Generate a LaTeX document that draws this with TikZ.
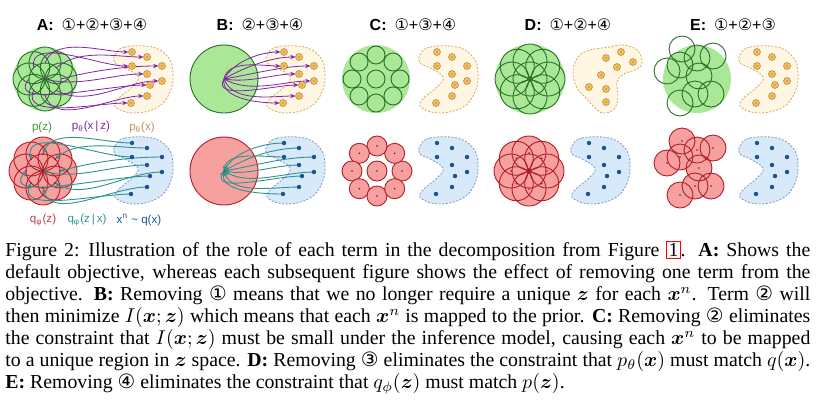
\documentclass[tikz,border=0pt]{standalone}
\usepackage{amsmath,amssymb,bm}
\usepackage{fontspec}
\setmainfont{Liberation Serif}
\setsansfont{Liberation Sans}
\newfontfamily\circfont{DejaVu Sans}
\usepackage{xcolor}
\usetikzlibrary{arrows.meta}

\definecolor{priorgreen}{RGB}{170,232,152}
\definecolor{postgreen}{RGB}{38,112,40}
\definecolor{lblgreen}{RGB}{70,150,60}
\definecolor{aggred}{RGB}{246,160,160}
\definecolor{postred}{RGB}{178,28,38}
\definecolor{modelfill}{RGB}{255,246,228}
\definecolor{modeledge}{RGB}{214,166,98}
\definecolor{modeldot}{RGB}{247,190,85}
\definecolor{datafill}{RGB}{216,233,250}
\definecolor{dataedge}{RGB}{128,152,196}
\definecolor{datadot}{RGB}{28,82,150}
\definecolor{decpurple}{RGB}{128,36,165}
\definecolor{encteal}{RGB}{45,148,140}

\tikzset{
  prior/.style={fill=priorgreen},
  postz/.style={draw=postgreen, line width=0.45pt},
  aggfill/.style={fill=aggred},
  aggline/.style={draw=postred, line width=0.45pt},
  modelblob/.style={draw=modeledge, fill=modelfill, dash pattern=on 1pt off 0.8pt, line width=0.4pt},
  datablob/.style={draw=dataedge, fill=datafill, dash pattern=on 1pt off 0.8pt, line width=0.4pt},
  mdot/.style={draw=modeledge!85!black, fill=modeldot, line width=0.3pt},
  mcore/.style={fill=modeledge!50!black},
  ddot/.style={fill=datadot},
  zdot/.style={fill=postred!70!black},
  decarr/.style={->, draw=decpurple, line width=0.4pt, shorten >=1.8pt, looseness=0.85},
  encarr/.style={->, draw=encteal, line width=0.45pt, looseness=0.85},
  ptitle/.style={font=\sffamily\fontsize{8}{9}\selectfont},
  lbl/.style={font=\sffamily\fontsize{5.8}{6.5}\selectfont},
  caption/.style={anchor=north west, inner sep=0pt, text width=402.5pt, align=justify,
                  font=\fontsize{9.9}{10.95}\selectfont},
}

\begin{document}
\begin{tikzpicture}[x=0.5pt, y=0.5pt, >={Stealth[length=2.6pt,width=2.2pt]}]
  \useasboundingbox (0,0) rectangle (819,-404);

  % Titles
  \node[ptitle] (tA) at (92,-25)  {\textbf{A:}\enspace{\circfont ①}+{\circfont ②}+{\circfont ③}+{\circfont ④}};
  \node[ptitle] (tB) at (260,-25) {\textbf{B:}\enspace{\circfont ②}+{\circfont ③}+{\circfont ④}};
  \node[ptitle] (tC) at (413,-25) {\textbf{C:}\enspace{\circfont ①}+{\circfont ③}+{\circfont ④}};
  \node[ptitle] (tD) at (568,-25) {\textbf{D:}\enspace{\circfont ①}+{\circfont ②}+{\circfont ④}};
  \node[ptitle] (tE) at (733,-25) {\textbf{E:}\enspace{\circfont ①}+{\circfont ②}+{\circfont ③}};

  % ---------------- A ----------------
  % prior and decoder posteriors
  \fill[prior] (45,-79) circle (32);
  \foreach \a in {0,45,...,315}
    \draw[postz] (45,-79) ++(\a:16) circle (16);
  \draw[postz] (45,-79) circle (16);
  \coordinate (Az5) at (45,-79);
  \foreach \a/\k in {90/1,45/2,135/3,0/4,-45/6,180/7,-90/8,-135/9}
    \path (45,-79) ++(\a:16) coordinate (Az\k);

  % model distribution
  \begin{scope}[shift={(132,-52)}]
    \draw[modelblob] plot[smooth cycle, tension=0.7] coordinates
      {(-17,-3) (-7,5) (20,5) (36,-5) (41,-21) (38,-40) (26,-55) (3,-61)
       (-15,-56) (-15,-48) (0,-35) (6,-25) (-7,-16) (-17,-11)};
    \foreach \px/\py [count=\k] in {0/0,15/-5,0/-14,30/-14,15/-22,30/-29,18/-33,15/-44,-1/-51}
      \coordinate (Ax\k) at (\px,\py);
  \end{scope}
  \foreach \o/\k in {70/1,40/2,100/3,15/4,-15/5,-30/6,-130/7,-75/8,-115/9}
    \draw[decarr] (Az\k) to[out=\o, in=180] (Ax\k);
  \foreach \k in {1,...,9} {
    \filldraw[mdot] (Ax\k) circle (3.5);
    \fill[mcore] (Ax\k) circle (0.7);
  }

  % aggregate posterior
  \foreach \a in {0,45,...,315}
    \fill[aggfill] (43,-171) ++(\a:17) circle (17);
  \foreach \a in {0,45,...,315}
    \draw[aggline] (43,-171) ++(\a:17) circle (17);
  \draw[aggline] (43,-171) circle (17);
  \coordinate (Aq5) at (43,-171);
  \foreach \a/\k in {90/1,45/2,135/3,0/4,-45/6,180/7,-90/8,-135/9}
    \path (43,-171) ++(\a:17) coordinate (Aq\k);

  % data distribution
  \begin{scope}[shift={(132,-143)}]
    \draw[datablob] plot[smooth cycle, tension=0.7] coordinates
      {(-17,-3) (-7,5) (20,5) (36,-5) (41,-21) (38,-40) (26,-55) (3,-61)
       (-15,-56) (-15,-48) (0,-35) (6,-25) (-7,-16) (-17,-11)};
    \foreach \px/\py [count=\k] in {0/0,15/-5,0/-14,30/-14,15/-22,30/-29,18/-33,15/-44,-1/-51}
      \coordinate (Ad\k) at (\px,\py);
  \end{scope}
  \foreach \o/\k in {70/1,40/2,100/3,15/4,-15/5,-30/6,-130/7,-75/8,-115/9}
    \draw[encarr] (Ad\k) to[out=180, in=\o] (Aq\k);
  \foreach \k in {1,...,9} {
    \fill[zdot] (Aq\k) circle (0.9);
    \fill[ddot] (Ad\k) circle (2.2);
  }

  % labels
  \node[lbl, text=lblgreen] (lpz) at (42,-127) {p(z)};
  \node[lbl, text=decpurple] (lpxz) at (91,-127) {p\textsubscript{θ}(x\,|\,z)};
  \node[lbl, text=modeledge!90!black] (lpx) at (142,-127) {p\textsubscript{θ}(x)};
  \node[lbl, text=postred!85] (lqz) at (43,-220) {q\textsubscript{φ}(z)};
  \node[lbl, text=encteal] (lqzx) at (87,-220) {q\textsubscript{φ}(z\,|\,x)};
  \node[lbl, text=datadot] (lqx) at (139,-220) {x\textsuperscript{n} {\char"7E} q(x)};

  % ---------------- B ----------------
  \filldraw[prior, postz] (224,-79) circle (34);
  \coordinate (Bz) at (224,-79);
  \begin{scope}[shift={(284,-52)}]
    \draw[modelblob] plot[smooth cycle, tension=0.7] coordinates
      {(-17,-3) (-7,5) (20,5) (36,-5) (41,-21) (38,-40) (26,-55) (3,-61)
       (-15,-56) (-15,-48) (0,-35) (6,-25) (-7,-16) (-17,-11)};
    \foreach \px/\py [count=\k] in {0/0,15/-5,0/-14,30/-14,15/-22,30/-29,18/-33,15/-44,-1/-51}
      \coordinate (Bx\k) at (\px,\py);
  \end{scope}
  \foreach \o/\k in {60/1,30/2,80/3,10/4,-10/5,-30/6,-120/7,-70/8,-100/9}
    \draw[decarr] (Bz) to[out=\o, in=180] (Bx\k);
  \foreach \k in {1,...,9} {
    \filldraw[mdot] (Bx\k) circle (3.5);
    \fill[mcore] (Bx\k) circle (0.7);
  }

  \filldraw[aggfill, aggline] (224,-171) circle (34);
  \coordinate (Bq) at (224,-171);
  \begin{scope}[shift={(284,-143)}]
    \draw[datablob] plot[smooth cycle, tension=0.7] coordinates
      {(-17,-3) (-7,5) (20,5) (36,-5) (41,-21) (38,-40) (26,-55) (3,-61)
       (-15,-56) (-15,-48) (0,-35) (6,-25) (-7,-16) (-17,-11)};
    \foreach \px/\py [count=\k] in {0/0,15/-5,0/-14,30/-14,15/-22,30/-29,18/-33,15/-44,-1/-51}
      \coordinate (Bd\k) at (\px,\py);
  \end{scope}
  \foreach \o/\k in {60/1,30/2,80/3,10/4,-10/5,-30/6,-120/7,-70/8,-100/9}
    \draw[encarr] (Bd\k) to[out=180, in=\o] (Bq);
  \fill[zdot] (Bq) circle (0.9);
  \foreach \k in {1,...,9}
    \fill[ddot] (Bd\k) circle (2.2);

  % ---------------- C ----------------
  \fill[prior] (376,-79) circle (34);
  \foreach \a in {0,45,...,315}
    \draw[postz] (376,-79) ++(\a:24) circle (9);
  \draw[postz] (376,-79) circle (9);
  \begin{scope}[shift={(437,-52)}]
    \draw[modelblob] plot[smooth cycle, tension=0.7] coordinates
      {(-17,-3) (-7,5) (20,5) (36,-5) (41,-21) (38,-40) (26,-55) (3,-61)
       (-15,-56) (-15,-48) (0,-35) (6,-25) (-7,-16) (-17,-11)};
    \foreach \px/\py [count=\k] in {0/0,15/-5,0/-14,30/-14,15/-22,30/-29,18/-33,15/-44,-1/-51} {
      \filldraw[mdot] (\px,\py) circle (3.5);
      \fill[mcore] (\px,\py) circle (0.7);
    }
  \end{scope}

  \foreach \a in {0,45,...,315} {
    \filldraw[aggfill, aggline] (377,-171) ++(\a:25) circle (10);
    \fill[zdot] (377,-171) ++(\a:25) circle (0.9);
  }
  \filldraw[aggfill, aggline] (377,-171) circle (10);
  \fill[zdot] (377,-171) circle (0.9);
  \begin{scope}[shift={(437,-143)}]
    \draw[datablob] plot[smooth cycle, tension=0.7] coordinates
      {(-17,-3) (-7,5) (20,5) (36,-5) (41,-21) (38,-40) (26,-55) (3,-61)
       (-15,-56) (-15,-48) (0,-35) (6,-25) (-7,-16) (-17,-11)};
    \foreach \px/\py in {0/0,15/-5,0/-14,30/-14,15/-22,30/-29,18/-33,15/-44,-1/-51}
      \fill[ddot] (\px,\py) circle (2.2);
  \end{scope}

  % ---------------- D ----------------
  \fill[prior] (530,-79) circle (35);
  \foreach \a in {0,45,...,315}
    \draw[postz] (530,-79) ++(\a:18) circle (17);
  \draw[postz] (530,-79) circle (17);
  \draw[modelblob] plot[smooth cycle, tension=0.7] coordinates
    {(573,-72) (578,-57) (590,-50) (610,-47) (623,-45) (637,-50) (642,-62) (637,-69)
     (624,-74) (617,-82) (618,-97) (614,-109) (603,-113) (594,-107) (586,-98) (577,-88)};
  \foreach \px/\py in {621/-52,606/-58,633/-62,617/-67,601/-75,589/-87,606/-89,606/-102} {
    \filldraw[mdot] (\px,\py) circle (3.5);
    \fill[mcore] (\px,\py) circle (0.7);
  }

  \foreach \a in {0,45,...,315}
    \fill[aggfill] (529,-171) ++(\a:18) circle (17);
  \foreach \a in {0,45,...,315} {
    \draw[aggline] (529,-171) ++(\a:18) circle (17);
    \fill[zdot] (529,-171) ++(\a:18) circle (0.8);
  }
  \draw[aggline] (529,-171) circle (17);
  \fill[zdot] (529,-171) circle (0.8);
  \begin{scope}[shift={(589,-143)}]
    \draw[datablob] plot[smooth cycle, tension=0.7] coordinates
      {(-17,-3) (-7,5) (20,5) (36,-5) (41,-21) (38,-40) (26,-55) (3,-61)
       (-15,-56) (-15,-48) (0,-35) (6,-25) (-7,-16) (-17,-11)};
    \foreach \px/\py in {0/0,15/-5,0/-14,30/-14,15/-22,30/-29,18/-33,15/-44,-1/-51}
      \fill[ddot] (\px,\py) circle (2.2);
  \end{scope}

  % ---------------- E ----------------
  \fill[prior] (697,-79) circle (34);
  \foreach \cx/\cy in {682/-49,667/-71,680/-65,697/-58,713/-56,699/-76,680/-103,695/-94,711/-94}
    \draw[postz] (\cx,\cy) circle (13);
  \begin{scope}[shift={(757,-52)}]
    \draw[modelblob] plot[smooth cycle, tension=0.7] coordinates
      {(-17,-3) (-7,5) (20,5) (36,-5) (41,-21) (38,-40) (26,-55) (3,-61)
       (-15,-56) (-15,-48) (0,-35) (6,-25) (-7,-16) (-17,-11)};
    \foreach \px/\py in {0/0,15/-5,0/-14,30/-14,15/-22,30/-29,18/-33,15/-44,-1/-51} {
      \filldraw[mdot] (\px,\py) circle (3.5);
      \fill[mcore] (\px,\py) circle (0.7);
    }
  \end{scope}

  \foreach \cx/\cy in {682/-141,667/-163,680/-157,697/-150,713/-148,699/-168,680/-195,695/-186,711/-186}
    \fill[aggfill] (\cx,\cy) circle (13);
  \foreach \cx/\cy in {682/-141,667/-163,680/-157,697/-150,713/-148,699/-168,680/-195,695/-186,711/-186} {
    \draw[aggline] (\cx,\cy) circle (13);
    \fill[zdot] (\cx,\cy) circle (0.8);
  }
  \begin{scope}[shift={(757,-143)}]
    \draw[datablob] plot[smooth cycle, tension=0.7] coordinates
      {(-17,-3) (-7,5) (20,5) (36,-5) (41,-21) (38,-40) (26,-55) (3,-61)
       (-15,-56) (-15,-48) (0,-35) (6,-25) (-7,-16) (-17,-11)};
    \foreach \px/\py in {0/0,15/-5,0/-14,30/-14,15/-22,30/-29,18/-33,15/-44,-1/-51}
      \fill[ddot] (\px,\py) circle (2.2);
  \end{scope}

  % Caption
  \node[caption] (cap) at (5,-241) {%
    Figure 2:\hspace{0.45em}Illustration of the role of each term in the decomposition from
    Figure~{\setlength{\fboxsep}{0.6pt}\setlength{\fboxrule}{0.5pt}\fcolorbox{red}{white}{1}}.
    \textbf{A:} Shows the\linebreak
    default objective, whereas each subsequent figure shows the effect of removing one term from the\linebreak
    objective. \textbf{B:} Removing {\circfont ①} means that we no longer require a unique
    $\bm{z}$ for each $\bm{x}^n$. Term {\circfont ②} will\linebreak
    then minimize $I(\bm{x};\bm{z})$ which means that each $\bm{x}^n$ is mapped to the prior.
    \textbf{C:} Removing {\circfont ②} eliminates\linebreak
    the constraint that $I(\bm{x};\bm{z})$ must be small under the inference model, causing
    each $\bm{x}^n$ to be mapped\linebreak
    to a unique region in $\bm{z}$ space. \textbf{D:} Removing {\circfont ③} eliminates the
    constraint that $p_\theta(\bm{x})$ must match $q(\bm{x})$.\linebreak
    \textbf{E:} Removing {\circfont ④} eliminates the constraint that $q_\phi(\bm{z})$ must
    match $p(\bm{z})$.};
\end{tikzpicture}
\end{document}
